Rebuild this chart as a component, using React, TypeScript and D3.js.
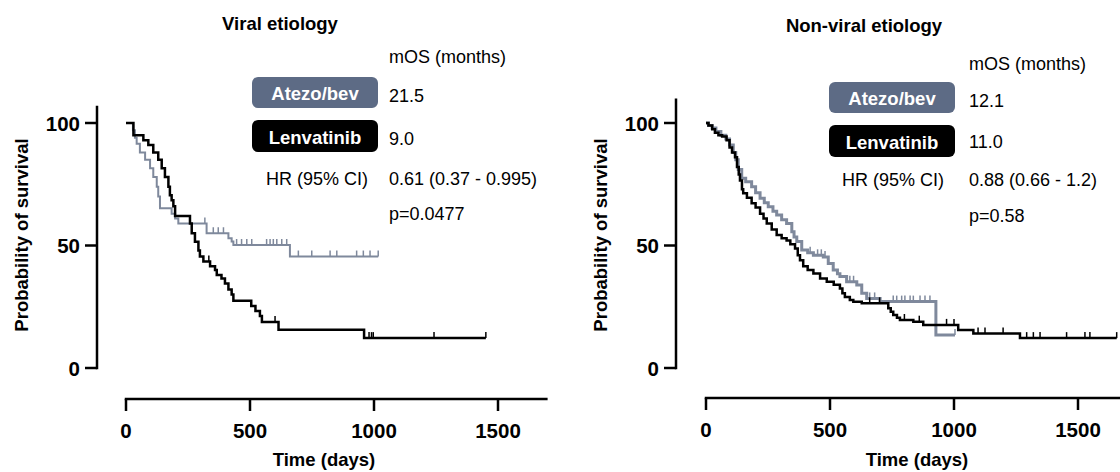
import React from 'react';
import * as d3 from 'd3';

// ---------- data ----------
const xTickValues = [0, 500, 1000, 1500];
const yTickValues = [0, 50, 100];
const seriesNames = ['Atezo/bev', 'Lenvatinib'];
const panelTitles = ['Viral etiology', 'Non-viral etiology'];

// Viral etiology – [day, survival % after step]
const viralAtezo: [number, number][] = [
  [0, 100], [28, 97], [36, 94], [43, 91.5], [56, 88], [77, 85], [97, 81.5], [110, 78],
  [124, 74], [130, 70], [137, 65.2], [184, 63], [198, 61], [211, 59], [325, 55],
  [413, 53], [426, 51.6], [433, 50.2], [661, 45.5],
];
const viralAtezoEnd = 1017;
const viralAtezoCensor = [318, 352, 372, 393, 446, 466, 487, 507, 567, 581, 594, 608, 628, 648, 695, 749, 823, 850, 930, 957, 984, 1017];

const viralLenva: [number, number][] = [
  [0, 100], [30, 95], [70, 93], [90, 91], [110, 88], [130, 85], [144, 81.5], [157, 78],
  [171, 74], [177, 70.5], [184, 68.5], [191, 66], [198, 62], [258, 59], [265, 55],
  [278, 51.5], [292, 48], [298, 45.5], [312, 43.5], [339, 41.5], [359, 40], [366, 38],
  [385, 36.5], [399, 34.5], [413, 32], [426, 30], [433, 27.5], [505, 25.3], [522, 23.3],
  [540, 21.2], [548, 18.8], [615, 15.6], [960, 12.2],
];
const viralLenvaEnd = 1451;
const viralLenvaCensor = [334, 601, 980, 990, 997, 1242, 1451];

// Non-viral etiology
const nonViralAtezo: [number, number][] = [
  [0, 100], [10, 99], [25, 98], [40, 96.5], [60, 95], [80, 93.5], [95, 91], [110, 88],
  [120, 85], [130, 81], [144, 77.4], [160, 76], [184, 74], [200, 71.5], [218, 69.3],
  [235, 67.5], [251, 65.8], [270, 64], [285, 62.4], [305, 60.5], [325, 59], [346, 55.6],
  [355, 53.5], [366, 51.6], [386, 48.2], [410, 47], [433, 46], [473, 45.3], [493, 42.7],
  [513, 40], [530, 38.5], [540, 37.3], [567, 35.2], [608, 33.9], [628, 30.5], [648, 28.4],
  [702, 27.1], [927, 13.5],
];
const nonViralAtezoEnd = 1004;
const nonViralAtezoCensor = [420, 450, 465, 480, 580, 595, 660, 680, 755, 769, 789, 802, 823, 836, 863, 883, 903, 1004];

const nonViralLenva: [number, number][] = [
  [0, 100], [10, 99], [25, 97.5], [36, 96], [50, 95], [65, 94.5], [83, 93], [95, 90],
  [105, 88], [117, 86], [125, 82], [132, 79], [137, 76.5], [145, 73], [150, 71.3],
  [165, 69.5], [184, 67.2], [200, 65.5], [218, 63], [232, 61], [245, 59], [265, 56.5],
  [285, 54.3], [305, 53], [325, 52], [340, 50.5], [359, 48.8], [370, 46], [379, 44],
  [392, 41.5], [410, 40], [433, 38.6], [460, 36.5], [487, 35.2], [515, 34], [540, 32.5],
  [550, 30.5], [560, 29], [580, 27.8], [594, 27], [628, 26.4], [735, 24.4], [745, 23],
  [755, 21.6], [770, 20.5], [782, 19.6], [836, 18.9], [876, 17.6], [1017, 15.5],
  [1078, 14.1], [1266, 12.2],
];
const nonViralLenvaEnd = 1656;
const nonViralLenvaCensor = [660, 700, 800, 860, 970, 1000, 1097, 1125, 1198, 1293, 1320, 1347, 1454, 1528, 1548, 1656];

const mosAtezo = ['21.5', '12.1'];
const mosLenva = ['9.0', '11.0'];
const hrText = ['0.61 (0.37 - 0.995)', '0.88 (0.66 - 1.2)'];
const pText = ['p=0.0477', 'p=0.58'];

// ---------- styling ----------
const FONT = '"Liberation Sans", Arial, Helvetica, sans-serif';
const ATEZO_PILL = '#5d6b85';
const ATEZO_LINE = '#7f899c';
const BLACK = '#000';

type Layout = {
  x0: number; yAxisX: number; xAxisY: number; yTopVal: number;
  titleX: number; titleY: number; yLabelX: number; xLabelX: number;
  mosX: number; mosY: number; pillX: number; pill1Y: number; pill2Y: number;
  val1Y: number; val2Y: number; hrLabelX: number; hrY: number; pY: number;
  atezoWidth: number;
};

const layouts: Layout[] = [
  { x0: 126, yAxisX: 97, xAxisY: 399, yTopVal: 107, titleX: 280, titleY: 30, yLabelX: 28, xLabelX: 324,
    mosX: 389, mosY: 63, pillX: 252, pill1Y: 77, pill2Y: 120, val1Y: 102, val2Y: 145,
    hrLabelX: 368, hrY: 185, pY: 220, atezoWidth: 2 },
  { x0: 706, yAxisX: 676, xAxisY: 398, yTopVal: 110, titleX: 864, titleY: 32, yLabelX: 607, xLabelX: 917,
    mosX: 969, mosY: 70, pillX: 829, pill1Y: 82, pill2Y: 125, val1Y: 107, val2Y: 148,
    hrLabelX: 944, hrY: 186, pY: 222, atezoWidth: 3 },
];

const survivalAt = (steps: [number, number][], t: number) => {
  let v = steps[0][1];
  for (const [ti, s] of steps) if (ti <= t) v = s;
  return v;
};

function Curve({ steps, end, censor, color, width, x, y }: any) {
  const pts: [number, number][] = [...steps, [end, steps[steps.length - 1][1]]];
  const line = d3.line<[number, number]>().x(d => x(d[0])).y(d => y(d[1])).curve(d3.curveStepAfter);
  return (
    <g>
      <path d={line(pts) || ''} fill="none" stroke={color} strokeWidth={width} strokeLinejoin="miter" />
      {censor.map((t: number, i: number) => {
        const yy = y(survivalAt(steps, t));
        return <line key={i} x1={x(t)} x2={x(t)} y1={yy} y2={yy - 6} stroke={color} strokeWidth={1.5} />;
      })}
    </g>
  );
}

function Panel({ idx, atezo, atezoEnd, atezoCensor, lenva, lenvaEnd, lenvaCensor }: any) {
  const L = layouts[idx];
  const x = d3.scaleLinear().domain([0, 1500]).range([L.x0, L.x0 + 372]);
  const y = d3.scaleLinear().domain([0, 100]).range([368, 123]);
  const pillW = 126, pillH = 31;
  return (
    <g fontFamily={FONT}>
      <text x={L.titleX} y={L.titleY} textAnchor="middle" fontWeight="bold" fontSize={18.5}>{panelTitles[idx]}</text>
      {/* y axis */}
      <line x1={L.yAxisX} x2={L.yAxisX} y1={y(0) + 1.25} y2={y(L.yTopVal)} stroke={BLACK} strokeWidth={2.5} />
      {yTickValues.map(v => (
        <g key={v}>
          <line x1={L.yAxisX - 12} x2={L.yAxisX} y1={y(v)} y2={y(v)} stroke={BLACK} strokeWidth={2.5} />
          <text x={L.yAxisX - 17} y={y(v) + 7.5} textAnchor="end" fontWeight="bold" fontSize={20.5}>{v}</text>
        </g>
      ))}
      <text transform={`translate(${L.yLabelX},235) rotate(-90)`} textAnchor="middle" fontWeight="bold" fontSize={18.5}>Probability of survival</text>
      {/* x axis */}
      <line x1={x(0) - 1.25} x2={x(1700)} y1={L.xAxisY} y2={L.xAxisY} stroke={BLACK} strokeWidth={2.5} />
      {xTickValues.map(v => (
        <g key={v}>
          <line x1={x(v)} x2={x(v)} y1={L.xAxisY} y2={L.xAxisY + 12} stroke={BLACK} strokeWidth={2.5} />
          <text x={x(v)} y={L.xAxisY + 39} textAnchor="middle" fontWeight="bold" fontSize={20.5}>{v}</text>
        </g>
      ))}
      <text x={L.xLabelX} y={466} textAnchor="middle" fontWeight="bold" fontSize={18.5}>Time (days)</text>
      {/* curves */}
      <Curve steps={atezo} end={atezoEnd} censor={atezoCensor} color={ATEZO_LINE} width={L.atezoWidth} x={x} y={y} />
      <Curve steps={lenva} end={lenvaEnd} censor={lenvaCensor} color={BLACK} width={2.5} x={x} y={y} />
      {/* legend */}
      <text x={L.mosX} y={L.mosY} fontSize={18}>mOS (months)</text>
      <rect x={L.pillX} y={L.pill1Y} width={pillW} height={pillH} rx={6} fill={ATEZO_PILL} />
      <text x={L.pillX + pillW / 2} y={L.pill1Y + 23} textAnchor="middle" fill="#fff" fontWeight="bold" fontSize={18.5}>{seriesNames[0]}</text>
      <rect x={L.pillX} y={L.pill2Y} width={pillW} height={pillH + 1} rx={6} fill={BLACK} />
      <text x={L.pillX + pillW / 2} y={L.pill2Y + 23.5} textAnchor="middle" fill="#fff" fontWeight="bold" fontSize={18.5}>{seriesNames[1]}</text>
      <text x={L.mosX} y={L.val1Y} fontSize={18}>{mosAtezo[idx]}</text>
      <text x={L.mosX} y={L.val2Y} fontSize={18}>{mosLenva[idx]}</text>
      <text x={L.hrLabelX} y={L.hrY} textAnchor="end" fontSize={18}>HR (95% CI)</text>
      <text x={L.mosX} y={L.hrY} fontSize={18}>{hrText[idx]}</text>
      <text x={L.mosX} y={L.pY} fontSize={18}>{pText[idx]}</text>
    </g>
  );
}

export default function App() {
  return (
    <svg width={1120} height={472} viewBox="0 0 1120 472"
      style={{ position: 'absolute', left: 0, top: 0, display: 'block', background: '#fff' }}>
      <rect width={1120} height={472} fill="#fff" />
      <Panel idx={0} atezo={viralAtezo} atezoEnd={viralAtezoEnd} atezoCensor={viralAtezoCensor}
        lenva={viralLenva} lenvaEnd={viralLenvaEnd} lenvaCensor={viralLenvaCensor} />
      <Panel idx={1} atezo={nonViralAtezo} atezoEnd={nonViralAtezoEnd} atezoCensor={nonViralAtezoCensor}
        lenva={nonViralLenva} lenvaEnd={nonViralLenvaEnd} lenvaCensor={nonViralLenvaCensor} />
    </svg>
  );
}
